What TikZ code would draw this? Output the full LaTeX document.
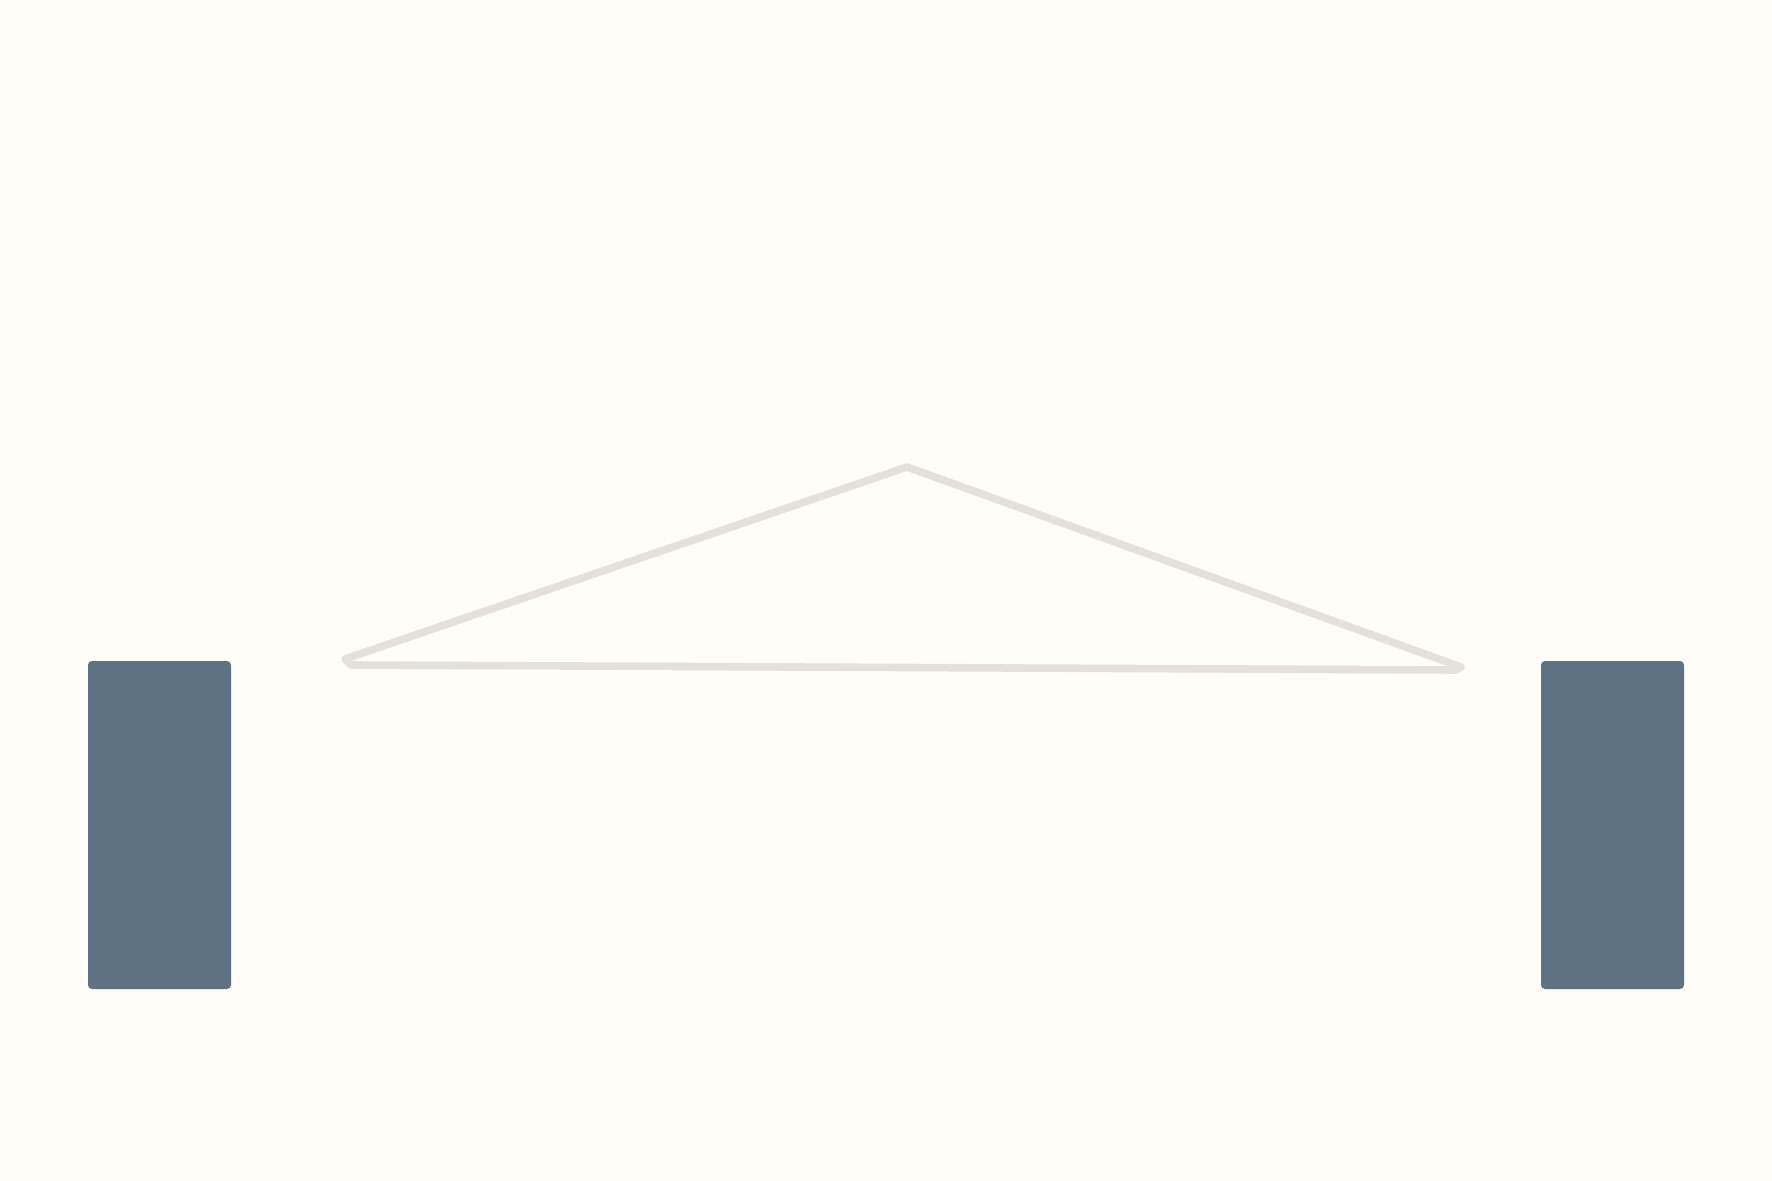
\documentclass[tikz,border=0pt]{standalone}
\definecolor{bg}{HTML}{FFFDF8}
\definecolor{pillar}{HTML}{5D7383}
\definecolor{roof}{HTML}{E3E1DC}
\begin{document}
\begin{tikzpicture}[x=0.5pt,y=-0.5pt,
  pillarbox/.style={fill=pillar,rounded corners=2pt},
  roofline/.style={draw=roof,line width=3.8pt,line join=round,line cap=round}]
\fill[bg] (0,0) rectangle (1772,1181);
\useasboundingbox (0,0) rectangle (1772,1181);
\fill[pillarbox] (88,661) rectangle (231,989);
\fill[pillarbox] (1541,661) rectangle (1684,989);
\coordinate (L) at (345,659);
\coordinate (A) at (907,467);
\coordinate (R) at (1461,667);
\coordinate (BL) at (351,665);
\coordinate (BR) at (1456,670);
\draw[roofline] (BL) -- (L) -- (A) -- (R) -- (BR) -- cycle;
\end{tikzpicture}
\end{document}
